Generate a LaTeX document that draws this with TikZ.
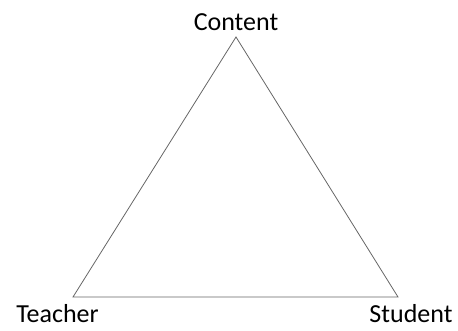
\documentclass[tikz,border=0pt]{standalone}
\usepackage{fontspec}
\setmainfont{Carlito}
\usepackage{tikz}
\usetikzlibrary{positioning, calc}

\tikzset{corner/.style={anchor=base, font=\fontsize{19.5}{22}\selectfont}}

\begin{document}
\begin{tikzpicture}[x=0.75pt, y=-0.75pt]
					\useasboundingbox (0,0) rectangle (458,331);
					\coordinate (top) at (236,37);
					\coordinate (left) at (73,297);
					\coordinate (right) at (398,297);
					\draw [gray!80!black, line width=0.6pt] (top) -- (left) -- (right) -- cycle;
					
					\node [corner] (content) at (236,31) {Content};
					\node [corner] (teacher) at (57.5,323) {Teacher};
					\node [corner] (student) at (411,323) {Student};
					\end{tikzpicture}
\end{document}
